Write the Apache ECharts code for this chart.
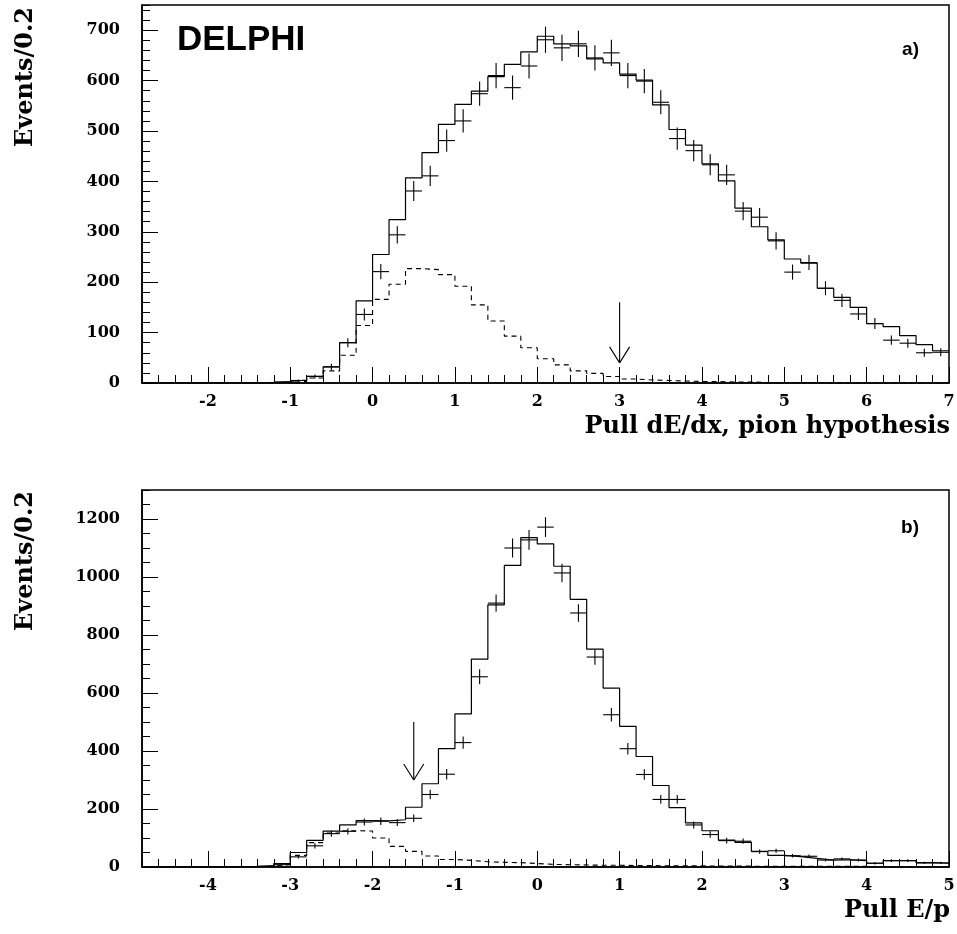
<!DOCTYPE html>
<html><head><meta charset="utf-8">
<script src="https://cdn.jsdelivr.net/npm/echarts@6/dist/echarts.min.js"></script>
<style>html,body{margin:0;padding:0;background:#fff}#c{width:957px;height:934px}</style>
</head><body><div id="c"></div>
<script>
// ---------- data ----------
const BIN = 0.2;
// panel a) Pull dE/dx, pion hypothesis  (bins start at -2.8)
const aStart = -2.8;
const aMC = [0,0,0,0,0,0,0, 1,3,6,13,32,80,163,
  255,324,407,457,513,553,579,608,632,657,
  688,673,669,643,635,613,601,552,503,472,
  435,401,347,310,284,246,238,188,170,150,
  118,112,94,76,64];
const aData = [0,0,0,0,0,0,0, 0,2,5,13,32,80,136,
  221,294,381,411,481,520,574,610,586,629,
  681,665,673,645,655,610,599,557,485,461,
  433,413,341,329,282,220,239,188,164,137,
  118,85,79,60,61];
const aErr = [0,0,0,0,0,0,0, 0,1,2,4,6,9,12,
  15,17,20,20,22,23,24,25,24,25,
  26,26,26,25,26,25,24,24,22,21,
  21,20,18,18,17,15,15,14,13,12,
  11,9,9,8,8];
const aBkg = [0,0,0,0,0,0,0, 0,1,3,10,24,55,114,
  166,196,227,225,215,192,155,123,93,70,
  48,36,24,19,13,8,6,5,4,3,
  3,2,2,1,1,1,1,1,0,0,
  0,0,0,0,0];
const aXTicks = [-2,-1,0,1,2,3,4,5,6,7];
const aYTicks = [0,100,200,300,400,500,600,700];
const aArrow = [3.0, 160, 40];

// panel b) Pull E/p (bins start at -4.8)
const bStart = -4.8;
const bMC = [0,0,0,0,0, 1,2,5,12,50,92,124,145,160,159,
  163,206,287,408,528,717,904,1040,1136,1114,
  1037,923,751,617,485,381,281,205,152,125,
  93,85,54,40,36,30,24,25,22,13,
  22,22,15,13];
const bData = [0,0,0,0,0, 0,0,2,8,35,73,115,123,155,158,
  153,168,250,320,429,656,910,1100,1128,1172,
  1014,876,724,525,408,319,233,233,145,112,
  91,89,53,56,39,37,24,28,24,13,
  22,22,14,14];
const bErr = [0,0,0,0,0, 0,0,1,3,6,9,11,11,12,13,
  12,13,16,18,21,26,30,33,34,34,
  32,30,27,23,20,18,15,15,12,11,
  10,9,7,7,6,6,5,5,5,4,
  5,5,4,4];
const bBkg = [0,0,0,0,0, 0,1,3,9,40,84,117,125,124,100,
  71,54,38,26,23,18,16,15,12,9,
  8,7,6,6,5,5,4,4,4,3,
  3,3,2,2,2,2,2,2,2,1,
  1,1,1,1];
const bXTicks = [-4,-3,-2,-1,0,1,2,3,4,5];
const bYTicks = [0,200,400,600,800,1000,1200];
const bArrow = [-1.5, 500, 300];

// ---------- helpers ----------
function stepPoints(start, vals){
  const pts = vals.map((v,i)=>[+(start + i*BIN).toFixed(4), v]);
  pts.push([+(start + vals.length*BIN).toFixed(4), vals[vals.length-1]]);
  return pts;
}
function crossPoints(start, vals, errs){
  const out = [];
  vals.forEach((v,i)=>{ if (v>0) out.push([+(start + (i+0.5)*BIN).toFixed(4), v, errs[i]]); });
  return out;
}
function crossRender(params, api){
  const x = api.value(0), y = api.value(1), e = api.value(2);
  const pL = api.coord([x - BIN/2, y]), pR = api.coord([x + BIN/2, y]);
  const pT = api.coord([x, y + e]), pB = api.coord([x, y - e]);
  const st = {stroke:'#000', lineWidth:1.1};
  return {type:'group', children:[
    {type:'line', shape:{x1:pL[0],y1:pL[1],x2:pR[0],y2:pR[1]}, style:st},
    {type:'line', shape:{x1:pT[0],y1:pT[1],x2:pB[0],y2:pB[1]}, style:st}
  ]};
}
function arrowRender(params, api){
  const p1 = api.coord([api.value(0), api.value(1)]);
  const p2 = api.coord([api.value(0), api.value(2)]);
  const st = {stroke:'#000', lineWidth:1.1};
  return {type:'group', children:[
    {type:'line', shape:{x1:p1[0],y1:p1[1],x2:p2[0],y2:p2[1]}, style:st},
    {type:'line', shape:{x1:p2[0]-10,y1:p2[1]-16,x2:p2[0],y2:p2[1]}, style:st},
    {type:'line', shape:{x1:p2[0]+10,y1:p2[1]-16,x2:p2[0],y2:p2[1]}, style:st}
  ]};
}

const LABEL_FONT = {fontFamily:'DejaVu Serif', fontWeight:'bold', fontSize:16, color:'#000', formatter:(v)=>String(v)};
const TITLE_FONT = 'bold 24px "DejaVu Serif"';

function axesFor(g, xmin, xmax, xTicks, ymax, yMinor, yTicks){
  const lc = {color:'#000', width:1};
  return {
    x: [
      {gridIndex:g, type:'value', position:'bottom', min:xmin, max:xmax, interval:BIN,
       axisLine:{show:true, onZero:false, lineStyle:{color:'#000', width:1.5}},
       axisTick:{show:true, inside:true, length:8, lineStyle:lc},
       axisLabel:{show:false}, splitLine:{show:false}},
      {gridIndex:g, type:'value', position:'bottom', offset:0, min:xmin, max:xmax,
       axisLine:{show:false, onZero:false},
       axisTick:{show:true, inside:true, length:16, customValues:xTicks, lineStyle:lc},
       axisLabel:Object.assign({show:true, customValues:xTicks, margin:11}, LABEL_FONT),
       splitLine:{show:false}}
    ],
    y: [
      {gridIndex:g, type:'value', position:'left', min:0, max:ymax, interval:yMinor,
       axisLine:{show:true, onZero:false, lineStyle:{color:'#000', width:1.5}},
       axisTick:{show:true, inside:true, length:8, lineStyle:lc},
       axisLabel:{show:false}, splitLine:{show:false}},
      {gridIndex:g, type:'value', position:'left', offset:0, min:0, max:ymax,
       axisLine:{show:false, onZero:false},
       axisTick:{show:true, inside:true, length:16, customValues:yTicks, lineStyle:lc},
       axisLabel:Object.assign({show:true, customValues:yTicks, margin:22}, LABEL_FONT),
       splitLine:{show:false}}
    ]
  };
}
const A = axesFor(0, aStart, 7, aXTicks, 750, 20, aYTicks);
const B = axesFor(1, bStart, 5, bXTicks, 1300, 50, bYTicks);

const solid = {color:'#000', width:1.2};
const dashed = {color:'#000', width:1.1, type:[5,4]};

const option = {
  animation:false,
  backgroundColor:'#fff',
  grid:[
    {left:142, top:5, width:807, height:378, show:true, borderColor:'#000', borderWidth:1.5, backgroundColor:'transparent', containLabel:false, outerBoundsMode:'none'},
    {left:142, top:490, width:807, height:377, show:true, borderColor:'#000', borderWidth:1.5, backgroundColor:'transparent', containLabel:false, outerBoundsMode:'none'}
  ],
  xAxis: A.x.concat(B.x),
  yAxis: A.y.concat(B.y),
  series:[
    {type:'line', xAxisIndex:0, yAxisIndex:0, step:'end', symbol:'none', data:stepPoints(aStart,aMC), lineStyle:solid, silent:true},
    {type:'line', xAxisIndex:0, yAxisIndex:0, step:'end', symbol:'none', data:stepPoints(aStart,aBkg), lineStyle:dashed, silent:true},
    {type:'custom', xAxisIndex:0, yAxisIndex:0, renderItem:crossRender, data:crossPoints(aStart,aData,aErr), clip:true, silent:true},
    {type:'custom', xAxisIndex:0, yAxisIndex:0, renderItem:arrowRender, data:[aArrow], silent:true},
    {type:'line', xAxisIndex:2, yAxisIndex:2, step:'end', symbol:'none', data:stepPoints(bStart,bMC), lineStyle:solid, silent:true},
    {type:'line', xAxisIndex:2, yAxisIndex:2, step:'end', symbol:'none', data:stepPoints(bStart,bBkg), lineStyle:dashed, silent:true},
    {type:'custom', xAxisIndex:2, yAxisIndex:2, renderItem:crossRender, data:crossPoints(bStart,bData,bErr), clip:true, silent:true},
    {type:'custom', xAxisIndex:2, yAxisIndex:2, renderItem:arrowRender, data:[bArrow], silent:true}
  ],
  graphic:[
    {type:'text', x:26, y:77, rotation:Math.PI/2, style:{text:'Events/0.2', font:TITLE_FONT, fill:'#000', align:'center', verticalAlign:'middle'}},
    {type:'text', x:26, y:561, rotation:Math.PI/2, style:{text:'Events/0.2', font:TITLE_FONT, fill:'#000', align:'center', verticalAlign:'middle'}},
    {type:'text', x:950, y:427, style:{text:'Pull dE/dx, pion hypothesis', font:TITLE_FONT, fill:'#000', align:'right', verticalAlign:'middle'}},
    {type:'text', x:950, y:911, style:{text:'Pull E/p', font:TITLE_FONT, fill:'#000', align:'right', verticalAlign:'middle'}},
    {type:'text', x:177, y:40, style:{text:'DELPHI', font:'bold 35px "Liberation Sans"', fill:'#000', align:'left', verticalAlign:'middle'}},
    {type:'text', x:919, y:50, style:{text:'a)', font:'bold 19px "Liberation Sans"', fill:'#000', align:'right', verticalAlign:'middle'}},
    {type:'text', x:919, y:528, style:{text:'b)', font:'bold 19px "Liberation Sans"', fill:'#000', align:'right', verticalAlign:'middle'}}
  ]
};
const chart = echarts.init(document.getElementById('c'), null, {renderer:'canvas'});
chart.setOption(option);
</script>
</body></html>
